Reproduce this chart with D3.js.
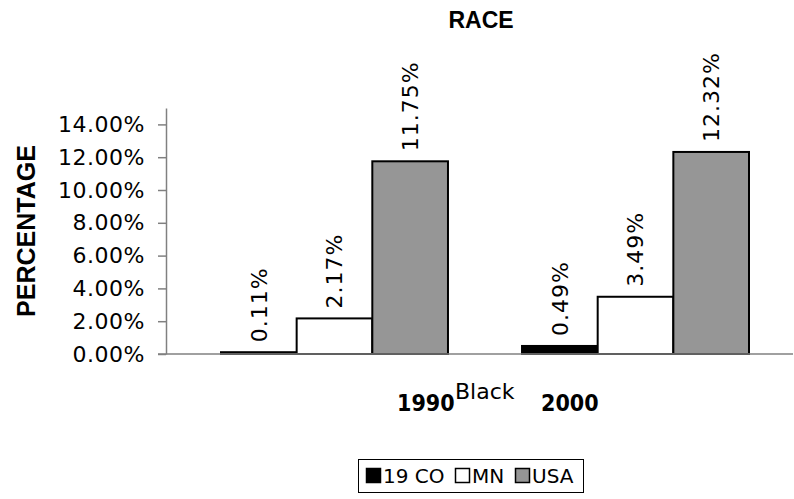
<!DOCTYPE html>
<html>
<head>
<meta charset="utf-8">
<script src="https://cdn.jsdelivr.net/npm/d3@7/dist/d3.min.js"></script>
<style>
  html, body { margin: 0; padding: 0; background: #fff; }
  svg { display: block; }
</style>
</head>
<body>
<svg id="chart" width="794" height="499"></svg>
<script>
const categories = ["1990", "2000"];
const seriesNames = ["19 CO", "MN", "USA"];
const values1990 = [0.0011, 0.0217, 0.1175];
const values2000 = [0.0049, 0.0349, 0.1232];
const yTicks = [0, 0.02, 0.04, 0.06, 0.08, 0.10, 0.12, 0.14];
const groupLabel = "Black";
const chartTitle = "RACE";
const yTitle = "PERCENTAGE";

const seriesColors = ["#000000", "#ffffff", "#969696"];
const valuesByCat = { "1990": values1990, "2000": values2000 };

const svg = d3.select("#chart");
const plot = { left: 166, right: 793, top: 108, bottom: 354 };

const y = d3.scaleLinear().domain([0, 0.15]).range([plot.bottom, plot.top]);
const x0 = d3.scaleBand().domain(categories).range([221, 749]).paddingInner(0.246).paddingOuter(0);
const x1 = d3.scaleBand().domain(seriesNames).range([0, x0.bandwidth()]).padding(0);

const numFont = "'DejaVu Sans', Verdana, sans-serif";
const condFont = "'DejaVu Sans Condensed', 'DejaVu Sans', Verdana, sans-serif";
const boldFont = "'Liberation Sans', Arial, sans-serif";

// Title
svg.append("text")
  .attr("x", 481).attr("y", 28)
  .attr("text-anchor", "middle")
  .style("font-family", boldFont).style("font-weight", "bold").style("font-size", "23px")
  .text(chartTitle);

// Y axis title
svg.append("text")
  .attr("transform", `translate(35, ${(plot.top + plot.bottom) / 2}) rotate(-90)`)
  .attr("text-anchor", "middle")
  .style("font-family", boldFont).style("font-weight", "bold").style("font-size", "25px")
  .text(yTitle);

// Y axis
const yAxis = svg.append("g")
  .attr("transform", `translate(${plot.left},0)`)
  .call(d3.axisLeft(y).tickValues(yTicks).tickFormat(d3.format(".2%")).tickSize(8).tickSizeOuter(0).tickPadding(13));
yAxis.select(".domain").attr("stroke", "#808080").attr("stroke-width", 1.5);
yAxis.selectAll(".tick line").attr("stroke", "#808080").attr("stroke-width", 1.5);
yAxis.selectAll(".tick text")
  .style("font-family", numFont).style("font-size", "22px").style("letter-spacing", "0.5px").attr("fill", "#000");

// Bars
const groups = svg.append("g").selectAll("g")
  .data(categories).join("g")
  .attr("transform", d => `translate(${x0(d)},0)`);

groups.selectAll("rect")
  .data(c => seriesNames.map((s, i) => ({ s, i, v: valuesByCat[c][i] })))
  .join("rect")
  .attr("x", d => x1(d.s))
  .attr("y", d => y(d.v))
  .attr("width", x1.bandwidth())
  .attr("height", d => y(0) - y(d.v))
  .attr("fill", d => seriesColors[d.i])
  .attr("stroke", "#000").attr("stroke-width", 2);

groups.selectAll("text.val")
  .data(c => seriesNames.map((s, i) => ({ s, i, v: valuesByCat[c][i] })))
  .join("text").attr("class", "val")
  .attr("transform", d => `translate(${x1(d.s) + x1.bandwidth() / 2}, ${y(d.v) - 10}) rotate(-90)`)
  .attr("dy", "0.36em")
  .attr("text-anchor", "start")
  .style("font-family", numFont).style("font-size", "22px").style("letter-spacing", "1px")
  .text(d => d3.format(".2%")(d.v));

// X axis line
const xAxis = svg.append("g")
  .attr("transform", `translate(0,${plot.bottom})`)
  .call(d3.axisBottom(x0).tickSize(0).tickFormat(""));
xAxis.select(".domain").attr("d", `M158,0H${plot.right}`).attr("stroke", "#808080").attr("stroke-width", 1.5);

// Category labels
svg.append("text").attr("x", 397).attr("y", 411)
  .style("font-family", condFont).style("font-stretch", "condensed").style("font-weight", "bold").style("font-size", "23px")
  .text(categories[0]);
svg.append("text").attr("x", 455).attr("y", 399)
  .style("font-family", numFont).style("font-size", "22px")
  .text(groupLabel);
svg.append("text").attr("x", 541).attr("y", 411)
  .style("font-family", condFont).style("font-stretch", "condensed").style("font-weight", "bold").style("font-size", "23px")
  .text(categories[1]);

// Legend
const legend = svg.append("g");
legend.append("rect")
  .attr("x", 358.5).attr("y", 459.5).attr("width", 225).attr("height", 33)
  .attr("fill", "#fff").attr("stroke", "#000").attr("stroke-width", 1);
const legendX = [366, 455, 515];
seriesNames.forEach((s, i) => {
  legend.append("rect")
    .attr("x", legendX[i] + 0.5).attr("y", 468.5).attr("width", 14).attr("height", 14)
    .attr("fill", seriesColors[i]).attr("stroke", "#000").attr("stroke-width", 1.5);
  legend.append("text")
    .attr("x", legendX[i] + 17).attr("y", 483)
    .style("font-family", numFont).style("font-size", "20px")
    .text(s);
});
</script>
</body>
</html>
